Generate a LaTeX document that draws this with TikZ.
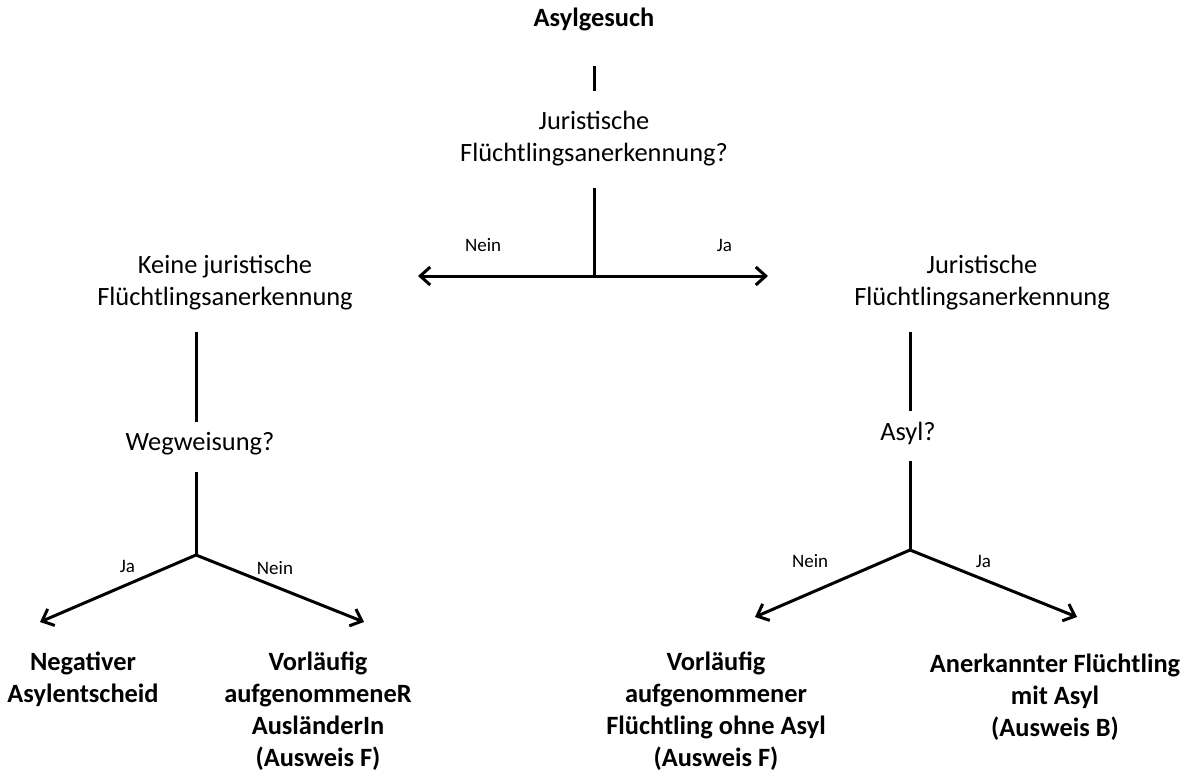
\documentclass[tikz,border=0pt]{standalone}
\usepackage{fontspec}
\setmainfont{Carlito}
\usepackage{tikz}
\usetikzlibrary{arrows.meta}
\tikzset{
    plain-text/.style = {align=center, font=\fontsize{13.2}{16}\selectfont},
    result-text/.style = {align=center, font=\fontsize{13.2}{16}\selectfont\bfseries},
    edge-label/.style = {font=\fontsize{9.5}{11}\selectfont},
    tree-line/.style = {line width=1.5pt},
    tree-arrow/.style = {line width=1.5pt, -{Straight Barb[length=5pt,width=9pt,line width=1.5pt]}},
}

\begin{document}
\begin{tikzpicture}[x=0.5pt, y=-0.5pt]
\useasboundingbox (0,0) rectangle (1189,776);

\node [result-text] (asylgesuch) at (594,19) {Asylgesuch};
\node [plain-text] (frage) at (594,139) {Juristische\\Flüchtlingsanerkennung?};
\node [plain-text] (keine) at (225,283) {Keine juristische\\Flüchtlingsanerkennung};
\node [plain-text] (anerkennung) at (982,283) {Juristische\\Flüchtlingsanerkennung};
\node [plain-text] (wegweisung) at (200,444) {Wegweisung?};
\node [plain-text] (asyl) at (908,433) {Asyl?};
\node [result-text] (negativ) at (83,679) {Negativer\\Asylentscheid};
\node [result-text] (auslaender) at (318,711) {Vorläufig\\aufgenommeneR\\AusländerIn\\(Ausweis F)};
\node [result-text] (fluechtling) at (716,711) {Vorläufig\\aufgenommener\\Flüchtling ohne Asyl\\(Ausweis F)};
\node [result-text] (anerkannt) at (1055,697) {Anerkannter Flüchtling\\mit Asyl\\(Ausweis B)};

% fork points and arrow ends
\coordinate (fork-top) at (594,276);
\coordinate (fork-left) at (196,555);
\coordinate (fork-right) at (910,550);
\coordinate (end-nein) at (418,276);
\coordinate (end-ja) at (768,276);

\draw [tree-line, shorten <=14pt, shorten >=7pt] (asylgesuch) -- (frage);
\draw [tree-line, shorten <=7pt] (frage) -- (fork-top);
\draw [tree-arrow] (fork-top) -- (end-nein) node [edge-label, pos=0.63, above=8pt] (l-nein) {Nein};
\draw [tree-arrow] (fork-top) -- (end-ja) node [edge-label, pos=0.75, above=8pt] (l-ja) {Ja};

\draw [tree-line, shorten <=7pt, shorten >=2pt] (keine.south -| fork-left) -- (wegweisung.north -| fork-left);
\draw [tree-line, shorten <=5pt] (wegweisung.south -| fork-left) -- (fork-left);
\draw [tree-arrow] (fork-left) -- (40,622) node [edge-label, pos=0.44, above=2pt] (l-ja2) {Ja};
\draw [tree-arrow] (fork-left) -- (364,622) node [edge-label, pos=0.47, above=2pt] (l-nein2) {Nein};

\draw [tree-line, shorten <=7pt, shorten >=2pt] (anerkennung.south -| fork-right) -- (asyl.north -| fork-right);
\draw [tree-line, shorten <=5pt] (asyl.south -| fork-right) -- (fork-right);
\draw [tree-arrow] (fork-right) -- (755,617) node [edge-label, pos=0.45, above left=2pt] (l-nein3) {Nein};
\draw [tree-arrow] (fork-right) -- (1077,617) node [edge-label, pos=0.44, above=2pt] (l-ja3) {Ja};
\end{tikzpicture}
\end{document}
